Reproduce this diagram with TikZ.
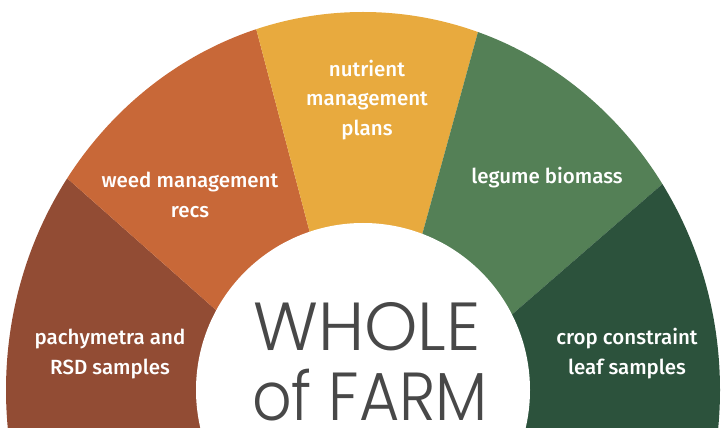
\documentclass[tikz,border=0pt]{standalone}
\usepackage{fontspec}
\setmainfont{Fira Sans Medium}
\newfontfamily\titlefont{Poppins Light}

\definecolor{segbrown}{RGB}{146,76,52}
\definecolor{segorange}{RGB}{200,104,56}
\definecolor{segyellow}{RGB}{232,170,62}
\definecolor{seggreen}{RGB}{84,128,86}
\definecolor{segdark}{RGB}{44,82,60}
\definecolor{titlegray}{RGB}{72,72,72}

\tikzset{
  seglabel/.style={text=white, align=center, font=\fontsize{17.5}{25.5}\selectfont},
  titletext/.style={text=titlegray, anchor=base, inner sep=0pt, text depth=0pt, font=\titlefont\fontsize{58}{58}\selectfont}
}

\begin{document}
\begin{tikzpicture}[x=0.03cm, y=-0.03cm]
  \useasboundingbox (0,0) rectangle (724,428);
  \clip (0,0) rectangle (724,428);

    % Where the dividers meet, and far points along them
  \coordinate (c) at (365,442);
  \coordinate (d1) at (-499,-323);
  \coordinate (d2) at (41,-788);
  \coordinate (d3) at (704,-788);
  \coordinate (d4) at (1247,-323);

    % Draw the segments of the ring
  \begin{scope}
    \clip (363,390) ellipse [x radius=357, y radius=378];
    \fill[segbrown] (c) -- (d1) -- (-600,900) -- (365,900) -- cycle;
    \fill[segorange] (c) -- (d1) -- (d2) -- cycle;
    \fill[segyellow] (c) -- (d2) -- (d3) -- cycle;
    \fill[seggreen] (c) -- (d3) -- (d4) -- cycle;
    \fill[segdark] (c) -- (d4) -- (1400,900) -- (365,900) -- cycle;
  \end{scope}

    % Draw the white centre
  \fill[white] (363,390) circle [radius=167];

    % Labels on the segments
  \node[seglabel] (pachy) at (110,354) {pachymetra and\\RSD samples};
  \node[seglabel] (weed) at (190,195) {weed management\\recs};
  \node[seglabel] (nutrient) at (367,100) {nutrient\\management\\plans};
  \node[seglabel] (legume) at (547,178) {legume biomass};
  \node[seglabel] (crop) at (627,354) {crop constraint\\leaf samples};

    % Title in the middle
  \node[titletext] (whole) at (367,351) {WHOLE};
  \node[titletext] (farm) at (370,420) {\scalebox{0.91}[1]{of FARM}};
\end{tikzpicture}
\end{document}
